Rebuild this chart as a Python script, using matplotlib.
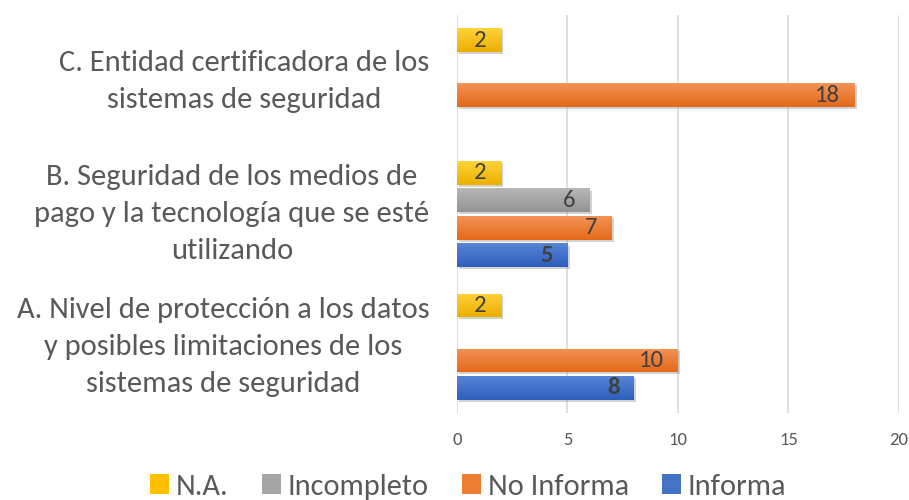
import matplotlib
matplotlib.use("Agg")
import matplotlib.pyplot as plt
import matplotlib.patheffects as pe
from matplotlib.patches import Patch
from matplotlib.colors import to_rgb
from matplotlib import font_manager
from matplotlib.font_manager import FontProperties
import numpy as np

categories = [
    "A. Nivel de protección a los datos\ny posibles limitaciones de los\nsistemas de seguridad",
    "B. Seguridad de los medios de\npago y la tecnología que se esté\nutilizando",
    "C. Entidad certificadora de los\nsistemas de seguridad",
]
series_names = ["Informa", "No Informa", "Incompleto", "N.A."]
informa = [8, 5, 0]
no_informa = [10, 7, 18]
incompleto = [0, 6, 0]
na = [2, 2, 2]
colors = ["#4472C4", "#ED7D31", "#A5A5A5", "#FFC000"]
top_colors = ["#5585D6", "#F39355", "#B6B6B6", "#FFD23A"]
bottom_colors = ["#2E5EBC", "#E3691A", "#949494", "#EBAF00"]
xticks = [0, 5, 10, 15, 20]

values = [informa, no_informa, incompleto, na]

available = {f.name for f in font_manager.fontManager.ttflist}
def pick(cands, default):
    for c in cands:
        if c in available:
            return c
    return default

main_font = pick(['Carlito', 'Lato'], 'DejaVu Sans')
plt.rcParams['font.family'] = [main_font, 'DejaVu Sans']

fig = plt.figure(figsize=(9.09, 5.0), dpi=100)
fig.canvas.draw()
rend = fig.canvas.get_renderer()

def measure(txt, family, size, weight='normal', linespacing=1.2):
    t = fig.text(0, 0, txt, fontproperties=FontProperties(family=[family, 'DejaVu Sans'], size=size, weight=weight),
                 linespacing=linespacing)
    bb = t.get_window_extent(rend)
    t.remove()
    return bb.width, bb.height

def fit_size(txt, family, target_w, weight='normal'):
    s = 20.0
    for _ in range(3):
        w, _h = measure(txt, family, s, weight)
        s = s * target_w / w
    return s

cat_size = fit_size("C. Entidad certificadora de los", main_font, 371)
ls = 1.4
for _ in range(3):
    _w, h1 = measure("Ag", main_font, cat_size, linespacing=ls)
    _w, h2 = measure("Ag\nAg", main_font, cat_size, linespacing=ls)
    ls = ls * 37.0 / (h2 - h1)

val_size = fit_size("18", main_font, 25)
tick_size = fit_size("10", main_font, 19)
leg_size = fit_size("No Informa", main_font, 141)
leg_px = leg_size * 100 / 72.0

ax = fig.add_axes([0.5028, 0.174, 0.486, 0.796])

slot = 0.2075
height = 0.178
y = np.arange(len(categories))
offsets = [-1.5, -0.5, 0.5, 1.5]
shadow = [pe.SimplePatchShadow(offset=(1.5, -1.5), shadow_rgbFace='#808080', alpha=0.35), pe.Normal()]

for vals, name, col, tc, bc, off in zip(values, series_names, colors, top_colors, bottom_colors, offsets):
    ypos = y + off * slot
    bars = ax.barh(ypos, vals, height=height, color=col, zorder=3)
    t = np.array(to_rgb(tc))
    b_ = np.array(to_rgb(bc))
    fr = np.linspace(0, 1, 64)[:, None]
    grad = (t[None, :] * (1 - fr) + b_[None, :] * fr)[:, None, :]
    for b, v in zip(bars, vals):
        if v == 0:
            b.set_visible(False)
            continue
        b.set_path_effects(shadow)
        y0 = b.get_y()
        y1 = y0 + b.get_height()
        im = ax.imshow(grad, extent=[0, v, y0, y1], origin='upper', aspect='auto',
                       zorder=3.5, interpolation='bilinear')
        im.set_clip_path(b)
        ax.text(v - 0.65, y0 + b.get_height() / 2, str(v),
                ha='right', va='center', fontsize=val_size, color='#404040',
                fontweight='bold' if name == "Informa" else 'normal', zorder=4)

ax.set_xlim(0, 20)
ax.set_ylim(-0.5, 2.5)
ax.set_xticks(xticks)
ax.set_xticklabels([str(t) for t in xticks], fontsize=tick_size, color='#595959')
ax.tick_params(axis='x', length=0, pad=14)
ax.set_yticks([])
ax.grid(axis='x', color='#D9D9D9', linewidth=1.2, zorder=0)
for s in ax.spines.values():
    s.set_visible(False)

for yi, lab in zip(y, categories):
    ax.text(-1.25, yi, lab, ha='right', va='center', multialignment='center',
            fontsize=cat_size, color='#595959', linespacing=ls,
            transform=ax.transData, clip_on=False)

order = [3, 2, 1, 0]
handles = [Patch(facecolor=colors[i]) for i in order]
labels = [series_names[i] for i in order]
leg = fig.legend(handles, labels,
                 loc='center', bbox_to_anchor=(468 / 909, 0.026), ncol=4, frameon=False,
                 prop=FontProperties(family=[main_font, 'DejaVu Sans'], size=leg_size),
                 handlelength=19 / leg_px, handleheight=19 / leg_px,
                 handletextpad=7 / leg_px, columnspacing=33 / leg_px,
                 borderpad=0.1, labelcolor='#595959')

fig.savefig("out.png", dpi=100)
